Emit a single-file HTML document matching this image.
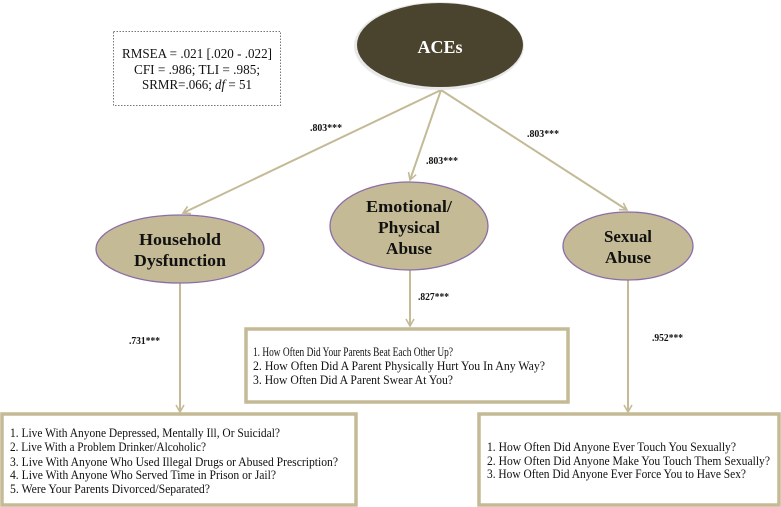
<!DOCTYPE html>
<html><head><meta charset="utf-8"><style>
html,body{margin:0;padding:0;background:#fff}
svg{display:block;font-family:"Liberation Serif",serif}
</style></head><body>
<svg width="781" height="507" viewBox="0 0 781 507" xmlns="http://www.w3.org/2000/svg">
<defs>
<marker id="a" markerWidth="10" markerHeight="10" refX="8" refY="5" orient="auto" markerUnits="userSpaceOnUse">
<path d="M1,1 L8,5 L1,9" fill="none" stroke="#c4ba96" stroke-width="1.6"/>
</marker>
</defs>
<!-- stats box -->
<rect x="113.5" y="31.5" width="167" height="74" fill="#fff" stroke="#777" stroke-width="1" stroke-dasharray="1.5,1.5"/>
<g font-size="14" text-anchor="middle" fill="#111">
<text x="197" y="58" textLength="150" lengthAdjust="spacingAndGlyphs">RMSEA = .021 [.020 - .022]</text>
<text x="197" y="74" textLength="126" lengthAdjust="spacingAndGlyphs">CFI = .986; TLI = .985;</text>
<text x="197" y="89" textLength="110" lengthAdjust="spacingAndGlyphs">SRMR=.066; <tspan font-style="italic">df</tspan> = 51</text>
</g>
<!-- arrows -->
<g stroke="#c4ba96" stroke-width="2" fill="none">
<line x1="441" y1="90" x2="183" y2="213" marker-end="url(#a)"/>
<line x1="441" y1="90" x2="410" y2="180" marker-end="url(#a)"/>
<line x1="441" y1="90" x2="627" y2="210" marker-end="url(#a)"/>
<line x1="180" y1="283" x2="180" y2="412" marker-end="url(#a)"/>
<line x1="410" y1="270" x2="410" y2="326" marker-end="url(#a)"/>
<line x1="628" y1="279" x2="628" y2="412" marker-end="url(#a)"/>
</g>
<!-- ACEs -->
<ellipse cx="439" cy="46" rx="85" ry="44" fill="#e8e8e8"/>
<ellipse cx="440" cy="45" rx="83" ry="42" fill="#4a432d"/>
<text x="440" y="53" font-size="18" font-weight="bold" fill="#fff" text-anchor="middle">ACEs</text>
<!-- latent ellipses -->
<g fill="#c4ba96" stroke="#8a6ea6" stroke-width="1.3">
<ellipse cx="180" cy="249" rx="84" ry="34"/>
<ellipse cx="409" cy="226" rx="79" ry="44"/>
<ellipse cx="628" cy="246" rx="65" ry="34"/>
</g>
<g font-size="17" font-weight="bold" text-anchor="middle" fill="#111">
<text x="180" y="245" textLength="82" lengthAdjust="spacingAndGlyphs">Household</text>
<text x="180" y="266" textLength="92" lengthAdjust="spacingAndGlyphs">Dysfunction</text>
<text x="409" y="212" textLength="86" lengthAdjust="spacingAndGlyphs">Emotional/</text>
<text x="409" y="233" textLength="62" lengthAdjust="spacingAndGlyphs">Physical</text>
<text x="409" y="254" textLength="46" lengthAdjust="spacingAndGlyphs">Abuse</text>
<text x="628" y="242" textLength="48" lengthAdjust="spacingAndGlyphs">Sexual</text>
<text x="628" y="263" textLength="46" lengthAdjust="spacingAndGlyphs">Abuse</text>
</g>
<!-- path labels -->
<g font-size="10" font-weight="bold" fill="#111">
<text x="310" y="131" textLength="32" lengthAdjust="spacingAndGlyphs">.803***</text>
<text x="426" y="164" textLength="32" lengthAdjust="spacingAndGlyphs">.803***</text>
<text x="527" y="137" textLength="32" lengthAdjust="spacingAndGlyphs">.803***</text>
<text x="418" y="300" textLength="31" lengthAdjust="spacingAndGlyphs">.827***</text>
<text x="129" y="344" textLength="31" lengthAdjust="spacingAndGlyphs">.731***</text>
<text x="652" y="341" textLength="31" lengthAdjust="spacingAndGlyphs">.952***</text>
</g>
<!-- indicator boxes -->
<g fill="#fff" stroke="#c4ba96" stroke-width="3.5">
<rect x="246" y="329" width="322" height="73"/>
<rect x="2" y="414" width="354" height="91"/>
<rect x="479" y="414" width="300" height="91"/>
</g>
<g font-size="12.5" fill="#111">
<text x="253" y="356" textLength="200" lengthAdjust="spacingAndGlyphs">1. How Often Did Your Parents Beat Each Other Up?</text>
<text x="253" y="370" textLength="292" lengthAdjust="spacingAndGlyphs">2. How Often Did A Parent Physically Hurt You In Any Way?</text>
<text x="253" y="384" textLength="200" lengthAdjust="spacingAndGlyphs">3. How Often Did A Parent Swear At You?</text>
<text x="10" y="437" textLength="270" lengthAdjust="spacingAndGlyphs">1. Live With Anyone Depressed, Mentally Ill, Or Suicidal?</text>
<text x="10" y="451" textLength="196" lengthAdjust="spacingAndGlyphs">2. Live With a Problem Drinker/Alcoholic?</text>
<text x="10" y="466" textLength="328" lengthAdjust="spacingAndGlyphs">3. Live With Anyone Who Used Illegal Drugs or Abused Prescription?</text>
<text x="10" y="479" textLength="266" lengthAdjust="spacingAndGlyphs">4. Live With Anyone Who Served Time in Prison or Jail?</text>
<text x="10" y="493" textLength="200" lengthAdjust="spacingAndGlyphs">5. Were Your Parents Divorced/Separated?</text>
<text x="487" y="451" textLength="249" lengthAdjust="spacingAndGlyphs">1. How Often Did Anyone Ever Touch You Sexually?</text>
<text x="487" y="465" textLength="283" lengthAdjust="spacingAndGlyphs">2. How Often Did Anyone Make You Touch Them Sexually?</text>
<text x="487" y="478" textLength="259" lengthAdjust="spacingAndGlyphs">3. How Often Did Anyone Ever Force You to Have Sex?</text>
</g>
</svg>
</body></html>
